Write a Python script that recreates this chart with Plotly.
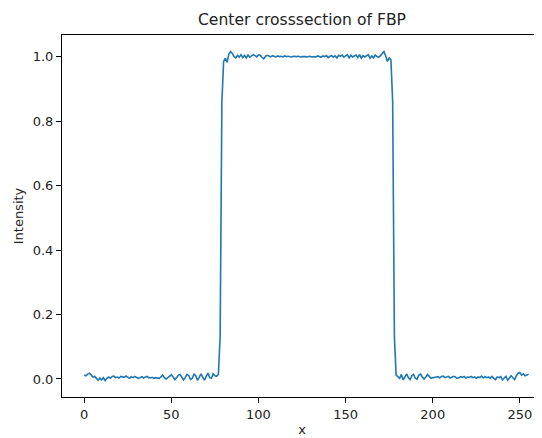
import plotly.graph_objects as go

# Centre row of the FBP reconstruction (pixel index 0..255)
baseline_left = [
    0.012, 0.010, 0.015, 0.018, 0.012, 0.005, 0.008, 0.002, -0.004, 0.003,
    -0.003, 0.004, -0.005, 0.002, 0.006, 0.002, 0.008, 0.009, 0.004, 0.006,
    0.003, 0.008, 0.007, 0.005, 0.009, 0.004, 0.002, 0.007, 0.004, 0.008,
    0.006, 0.002, 0.004, 0.007, 0.003, 0.005, 0.008, 0.004, 0.003, 0.005,
    0.002, 0.004, 0.003, 0.002, 0.006, 0.012, 0.004, 0.000, 0.004, 0.010,
    0.013, 0.006, -0.002, 0.004, 0.012, 0.014, 0.004, -0.003, 0.005, 0.014,
    0.010, -0.002, 0.002, 0.015, 0.010, -0.004, 0.005, 0.016, 0.006, -0.004,
    0.008, 0.018, 0.004, 0.002, 0.016, 0.010, 0.008, 0.014,
]
rise = [0.130, 0.860]
plateau = [
    0.985, 0.995, 0.982, 1.008, 1.016, 1.010, 1.000, 0.996, 1.004, 0.998,
    1.006, 0.997, 1.004, 0.996, 1.005, 0.998, 1.002, 1.006, 1.003, 0.999,
    1.005, 1.004, 0.998, 0.993, 1.001, 1.004, 1.002, 0.999, 1.003, 1.001,
    0.999, 1.002, 1.000, 1.001, 0.999, 1.002, 1.000, 1.001, 1.000, 0.999,
    1.001, 1.000, 1.000, 1.001, 0.999, 1.000, 1.001, 1.000, 0.999, 1.001,
    1.000, 1.000, 1.001, 0.999, 1.002, 1.000, 0.998, 1.002, 1.000, 1.003,
    0.997, 1.001, 1.003, 0.998, 1.002, 0.996, 1.004, 1.001, 1.005, 0.998,
    1.002, 1.006, 0.996, 1.004, 0.999, 1.002, 1.005, 0.997, 1.006, 0.995,
    1.003, 0.999, 1.004, 1.006, 0.995, 1.002, 0.996, 1.005, 1.000, 0.998,
    1.003, 1.010, 1.016, 1.002, 0.985, 0.996, 0.990,
]
fall = [0.860, 0.130]
baseline_right = [
    0.012,
    0.008, 0.002, 0.014, -0.003, 0.006, 0.016, 0.004, -0.002, 0.010, 0.014,
    0.002, -0.001, 0.012, 0.015, 0.006, 0.000, 0.006, 0.014, 0.008, 0.002,
    0.004, 0.004, 0.006, 0.007, 0.003, 0.008, 0.009, 0.004, 0.006, 0.008,
    0.003, 0.005, 0.008, 0.006, 0.002, 0.004, 0.007, 0.005, 0.008, 0.003,
    0.006, 0.005, 0.008, 0.004, 0.006, 0.002, 0.006, 0.004, 0.009, 0.003,
    0.007, 0.004, 0.006, 0.002, 0.008, 0.002, -0.002, 0.006, 0.004, 0.007,
    -0.003, 0.003, 0.008, -0.004, 0.002, 0.010, 0.004, -0.002, 0.010, 0.018,
    0.020, 0.012, 0.016, 0.010, 0.012, 0.015,
]

intensity = baseline_left + rise + plateau + fall + baseline_right
pixel = list(range(len(intensity)))

FONT = "DejaVu Sans, Arial, sans-serif"

fig = go.Figure(go.Scatter(
    x=pixel, y=intensity, mode="lines",
    line=dict(color="#1f77b4", width=1.6),
    showlegend=False,
))

axis_common = dict(
    showgrid=False, zeroline=False, showline=True, mirror=True,
    linecolor="black", linewidth=1, ticks="outside", ticklen=5,
    tickcolor="black", tickfont=dict(size=13, color="#222222"),
)

# page body adds an 8px offset, so the figure is a bit smaller than the window
fig.update_layout(
    width=534, height=430,
    title=dict(text="Center crosssection of FBP", x=0.5, xanchor="center",
               xref="paper", y=1 - 12 / 430, yanchor="middle",
               font=dict(size=15.6, color="#222222", family=FONT)),
    xaxis=dict(range=[-12.75, 262.7], tickvals=[0, 50, 100, 150, 200, 250],
               title=dict(text="x", font=dict(size=13), standoff=4), **axis_common),
    yaxis=dict(range=[-0.056, 1.067], tickvals=[0, 0.2, 0.4, 0.6, 0.8, 1.0],
               tickformat=".1f",
               title=dict(text="Intensity", font=dict(size=13), standoff=6),
               **axis_common),
    plot_bgcolor="white", paper_bgcolor="white",
    margin=dict(l=54, r=0, t=27, b=41),
    font=dict(family=FONT, color="#222222"),
)

fig.write_html("out.html")
